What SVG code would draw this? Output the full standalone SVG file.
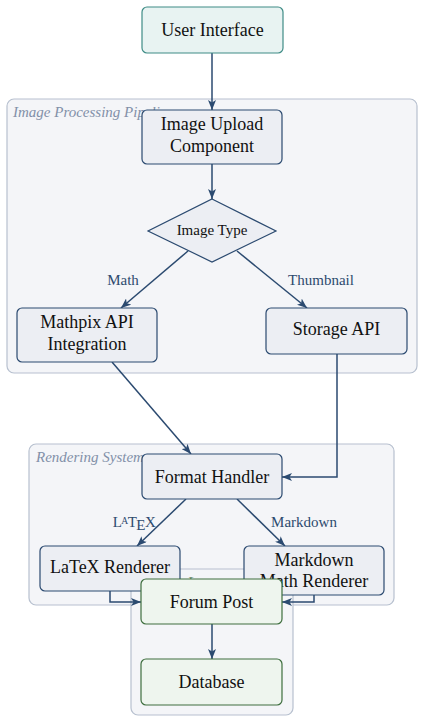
<svg xmlns="http://www.w3.org/2000/svg" width="424" height="722" viewBox="0 0 424 722">
<style>
text{font-family:"Liberation Serif","Times New Roman",serif;fill:#111;}
.n{font-size:18px;text-anchor:middle;}
.dt{font-size:15px;text-anchor:middle;}
.el{font-size:15px;fill:#2d4a6e;text-anchor:middle;}
.cl{font-size:15px;font-style:italic;fill:#8290a8;}
.clg{font-size:15px;font-style:italic;fill:#6f8f6f;}
.cluster{fill:#f4f5f8;stroke:#b7c0cf;stroke-width:1.2;}
.box{fill:#eceef3;stroke:#2b4a70;stroke-width:1.2;}
.teal{fill:#e8f3f2;stroke:#3f8c86;stroke-width:1.2;}
.green{fill:#eef5ee;stroke:#3e6e3e;stroke-width:1.2;}
.e{fill:none;stroke:#2b4a70;stroke-width:1.5;marker-end:url(#ah);}
</style>
<defs>
<marker id="ah" viewBox="0 0 10 8" refX="10" refY="4" markerWidth="10" markerHeight="8" markerUnits="userSpaceOnUse" orient="auto">
<path d="M0,0 L10,4 L0,8 L2.5,4 z" fill="#2b4a70"/>
</marker>
</defs>
<g id="clusters">
<g id="cluster-image-processing">
<rect class="cluster" x="7" y="99" width="410" height="274" rx="7"/>
<text class="cl" x="13" y="117">Image Processing Pipeline</text>
</g>
<g id="cluster-rendering">
<rect class="cluster" x="29" y="444" width="365" height="161" rx="7"/>
<text class="cl" x="36" y="462">Rendering System</text>
</g>
<g id="cluster-storage">
<rect class="cluster" x="131" y="569" width="162" height="146" rx="7"/>
<text class="clg" x="137" y="587">Storage Layer</text>
</g>
</g>
<g id="edges">
<path class="e" d="M212,53 L212,110"/>
<path class="e" d="M212,164 L212,199"/>
<path class="e" d="M188,251 L121,308"/>
<path class="e" d="M237,251 L307,308"/>
<path class="e" d="M112,362 L191,454"/>
<path class="e" d="M337,354 L337,477 L282,477"/>
<path class="e" d="M186,499 L137,546"/>
<path class="e" d="M237,499 L285,546"/>
<path class="e" d="M110,591 L110,602 L141,602"/>
<path class="e" d="M314,595 L314,602 L282,602"/>
<path class="e" d="M212,624 L212,659"/>
</g>
<g id="edge-labels">
<text class="el" x="134" y="527" font-size="13" letter-spacing="-0.5">L<tspan font-size="9.5" dy="-3">A</tspan><tspan dy="3">T</tspan><tspan dy="3">E</tspan><tspan dy="-3">X</tspan></text>
<text class="el" x="123" y="285">Math</text>
<text class="el" x="321" y="285">Thumbnail</text>
<text class="el" x="304" y="527">Markdown</text>
</g>
<g id="user-interface">
<rect class="teal" x="142" y="7" width="141" height="46" rx="5"/>
<text class="n" x="212.5" y="36">User Interface</text>
</g>
<g id="image-upload">
<rect class="box" x="142" y="110" width="140" height="54" rx="5"/>
<text class="n" x="212" y="130">Image Upload</text>
<text class="n" x="212" y="152">Component</text>
</g>
<g id="image-type">
<polygon class="box" points="212,199 276,231 212,262 148,231"/>
<text class="dt" x="212" y="235">Image Type</text>
</g>
<g id="mathpix">
<rect class="box" x="17" y="308" width="140" height="54" rx="5"/>
<text class="n" x="87" y="328">Mathpix API</text>
<text class="n" x="87" y="350">Integration</text>
</g>
<g id="storage-api">
<rect class="box" x="266" y="308" width="141" height="46" rx="5"/>
<text class="n" x="336.5" y="335">Storage API</text>
</g>
<g id="format-handler">
<rect class="box" x="142" y="454" width="140" height="45" rx="5"/>
<text class="n" x="212" y="483">Format Handler</text>
</g>
<g id="latex-renderer">
<rect class="box" x="40" y="546" width="140" height="45" rx="5"/>
<text class="n" x="110" y="573">LaTeX Renderer</text>
</g>
<g id="markdown-renderer">
<rect class="box" x="244" y="546" width="140" height="49" rx="5"/>
<text class="n" x="314" y="566">Markdown</text>
<text class="n" x="314" y="587">Math Renderer</text>
</g>
<g id="forum-post">
<rect class="green" x="141" y="579" width="141" height="45" rx="5"/>
<text class="n" x="211.5" y="608">Forum Post</text>
</g>
<g id="database">
<rect class="green" x="141" y="659" width="141" height="46" rx="5"/>
<text class="n" x="211.5" y="688">Database</text>
</g>
</svg>
